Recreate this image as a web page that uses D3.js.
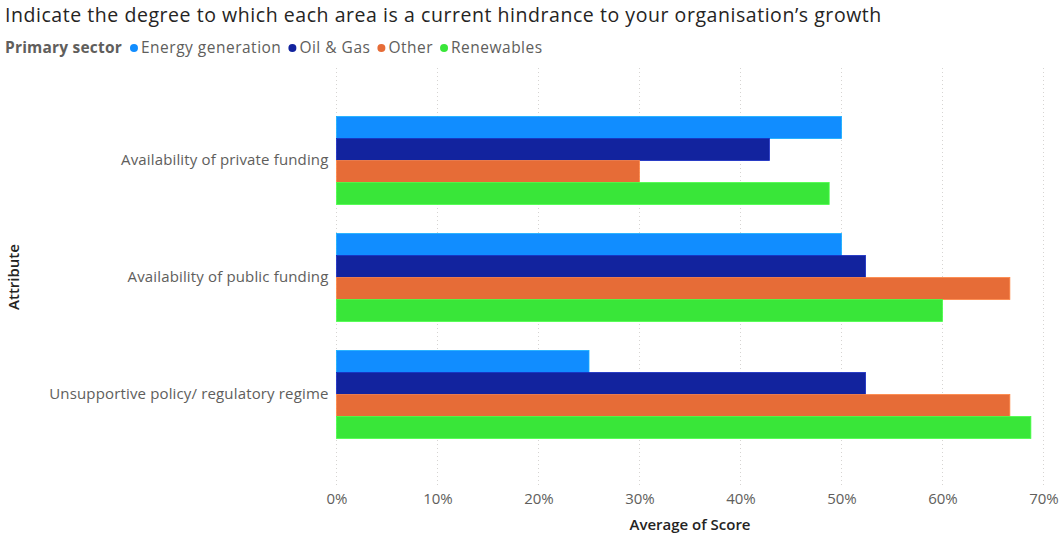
<!DOCTYPE html>
<html>
<head>
<meta charset="utf-8">
<script src="https://cdn.jsdelivr.net/npm/d3@7"></script>
<style>
  html, body { margin: 0; padding: 0; background: #fff; }
  svg { display: block; font-family: "Open Sans", "Noto Sans", sans-serif; }
</style>
</head>
<body>
<svg id="chart" width="1062" height="535"></svg>
<script>
// Categories on the y axis, top to bottom
const attributes = [
  "Availability of private funding",
  "Availability of public funding",
  "Unsupportive policy/ regulatory regime"
];
// Legend series (primary sector)
const sectors = ["Energy generation", "Oil & Gas", "Other", "Renewables"];
const sectorColors = ["#118DFF", "#12239E", "#E66C37", "#39E639"];
// Average score per attribute, one array per sector (same order as attributes)
const energyGeneration = [0.50, 0.50, 0.25];
const oilGas = [0.4286, 0.5238, 0.5238];
const other = [0.30, 0.6667, 0.6667];
const renewables = [0.4878, 0.60, 0.6875];
const xTicks = [0, 0.1, 0.2, 0.3, 0.4, 0.5, 0.6, 0.7];

const seriesValues = [energyGeneration, oilGas, other, renewables];

const svg = d3.select("#chart");

// Title
svg.append("text")
  .attr("x", 5).attr("y", 22)
  .attr("font-size", 19.5)
  .attr("letter-spacing", 0.55)
  .attr("fill", "#252423")
  .text("Indicate the degree to which each area is a current hindrance to your organisation\u2019s growth");

// Legend
const legend = svg.append("g").attr("transform", "translate(5,53)");
const legTitle = legend.append("text")
  .attr("x", 0).attr("y", 0)
  .attr("font-size", 15.5).attr("font-weight", "bold")
  .attr("letter-spacing", 0.2)
  .attr("fill", "#605E5C")
  .text("Primary sector");
let lx = legTitle.node().getComputedTextLength() + 8;
sectors.forEach((s, i) => {
  legend.append("circle")
    .attr("cx", lx + 4).attr("cy", -5).attr("r", 4)
    .attr("fill", sectorColors[i]);
  const t = legend.append("text")
    .attr("x", lx + 11).attr("y", 0)
    .attr("font-size", 15.5).attr("fill", "#605E5C")
    .attr("letter-spacing", 0.5)
    .text(s);
  lx += 11 + t.node().getComputedTextLength() + 7;
});

// Scales
const x = d3.scaleLinear().domain([0, 0.7]).range([336.5, 1043.5]);
const y = d3.scaleBand().domain(attributes).range([68, 487])
  .paddingInner(0.248).paddingOuter(0.415);
const ySub = d3.scaleBand().domain(sectors).range([0, y.bandwidth()]);

// Gridlines (dotted)
svg.append("g")
  .selectAll("line")
  .data(xTicks)
  .join("line")
  .attr("x1", d => x(d)).attr("x2", d => x(d))
  .attr("y1", 68).attr("y2", 487)
  .attr("stroke", "#D6D4D2")
  .attr("stroke-width", 1)
  .attr("stroke-dasharray", "1,3");

// Bars
const groups = svg.append("g")
  .selectAll("g")
  .data(attributes)
  .join("g")
  .attr("transform", d => `translate(0,${y(d)})`);

groups.selectAll("rect")
  .data((a, ai) => sectors.map((s, si) => ({ s, si, v: seriesValues[si][ai] })))
  .join("rect")
  .attr("x", x(0))
  .attr("y", d => ySub(d.s))
  .attr("width", d => x(d.v) - x(0))
  .attr("height", ySub.bandwidth())
  .attr("fill", d => sectorColors[d.si])
  .attr("stroke", d => d3.color(sectorColors[d.si]).brighter(0.6))
  .attr("stroke-width", 0.8);

// X axis (labels only)
const xAxis = d3.axisBottom(x)
  .tickValues(xTicks)
  .tickFormat(d3.format(".0%"))
  .tickSize(0)
  .tickPadding(0);
const gx = svg.append("g")
  .attr("transform", "translate(0,493)")
  .call(xAxis);
gx.select(".domain").remove();
gx.selectAll("text")
  .attr("font-size", 15)
  .attr("font-family", "\"Open Sans\", \"Noto Sans\", sans-serif")
  .attr("fill", "#605E5C");

// Y axis (category labels only)
const yAxis = d3.axisLeft(y).tickSize(0).tickPadding(8);
const gy = svg.append("g")
  .attr("transform", `translate(${x(0)},0)`)
  .call(yAxis);
gy.select(".domain").remove();
gy.selectAll("text")
  .attr("font-size", 15)
  .attr("letter-spacing", 0.15)
  .attr("font-family", "\"Open Sans\", \"Noto Sans\", sans-serif")
  .attr("fill", "#605E5C");

// Axis titles
svg.append("text")
  .attr("x", 690).attr("y", 530)
  .attr("text-anchor", "middle")
  .attr("font-size", 15)
  .attr("font-weight", 600)
  .attr("fill", "#252423")
  .text("Average of Score");

svg.append("text")
  .attr("transform", "translate(19,277) rotate(-90)")
  .attr("text-anchor", "middle")
  .attr("font-size", 15)
  .attr("font-weight", 600)
  .attr("fill", "#252423")
  .text("Attribute");
</script>
</body>
</html>
